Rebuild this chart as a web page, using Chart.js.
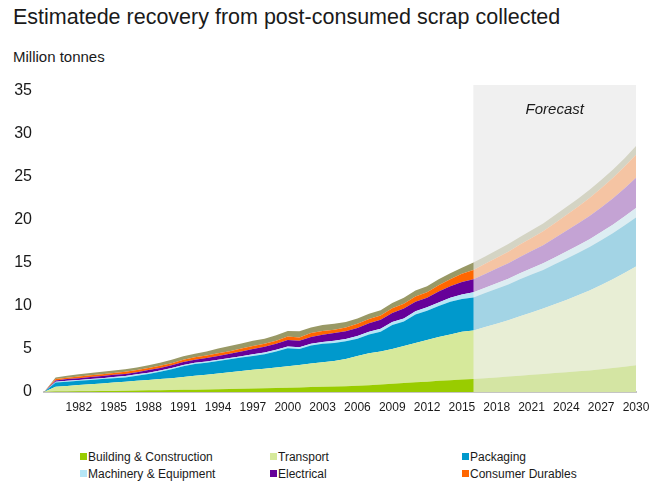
<!DOCTYPE html>
<html>
<head>
<meta charset="utf-8">
<script src="https://cdn.jsdelivr.net/npm/chart.js@4"></script>
<style>
  body { margin: 0; background: #fff; font-family: "Liberation Sans", Arial, sans-serif; color: #1a1a1a; }
  #wrap { position: relative; width: 650px; height: 482px; overflow: hidden; }
  h1 { position: absolute; left: 13px; top: 5px; margin: 0; font-size: 21.5px; font-weight: normal; }
  .unit { position: absolute; left: 13px; top: 48px; font-size: 15px; }
  #box { position: absolute; left: 0; top: 80px; width: 650px; height: 340px; }
  .item { position: absolute; font-size: 12px; line-height: 14px; white-space: nowrap; }
  .item i { display: inline-block; width: 7px; height: 7px; margin-right: 1px; vertical-align: 1px; }
</style>
</head>
<body>
<div id="wrap">
  <h1>Estimatede recovery from post-consumed scrap collected</h1>
  <div class="unit">Million tonnes</div>
  <div id="box"><canvas id="grafico"></canvas></div>
  <div id="legend"></div>
</div>
<script>
  // years 1979..2030, forecast starts at 2016
  const years = [];
  for (let y = 1979; y <= 2030; y++) years.push(String(y));
  const forecastStart = '2016';
  const yTicks = [0, 5, 10, 15, 20, 25, 30, 35];

  const building = [0,
    .05, .06, .08, .1, .12, .13, .15, .17, .19, .21,
    .23, .25, .27, .29, .31, .34, .37, .4, .43, .46,
    .5, .53, .57, .6, .64, .68, .72, .78, .88, .95,
    1.05, 1.13, 1.2, 1.3, 1.37, 1.44, 1.5,
    1.6, 1.7, 1.8, 1.9, 2.0, 2.1, 2.2, 2.3, 2.4, 2.5, 2.65, 2.8, 2.95, 3.1];
  const transport = [0,
    .55, .64, .72, .8, .88, .97, 1.05, 1.13, 1.21, 1.29,
    1.37, 1.5, 1.63, 1.71, 1.84, 1.96, 2.08, 2.2, 2.27, 2.39,
    2.5, 2.62, 2.73, 2.85, 2.96, 3.17, 3.48, 3.72, 3.82, 4.05,
    4.3, 4.57, 4.85, 5.1, 5.33, 5.56, 5.65,
    5.95, 6.25, 6.55, 6.9, 7.25, 7.6, 8.0, 8.4, 8.85, 9.3, 9.8, 10.3, 10.9, 11.5];
  const packaging = [0,
    .5, .5, .5, .5, .5, .5, .5, .6, .7, .85,
    1.05, 1.25, 1.35, 1.4, 1.45, 1.5, 1.55, 1.6, 1.7, 1.85,
    2.1, 1.85, 2.1, 2.15, 2.1, 2.05, 2.0, 2.2, 2.3, 2.8,
    2.85, 3.3, 3.4, 3.6, 3.8, 3.8, 3.85,
    3.95, 4.05, 4.15, 4.3, 4.4, 4.5, 4.65, 4.8, 4.9, 5.05, 5.2, 5.35, 5.5, 5.7];
  const machinery = [0,
    .1, .1, .1, .1, .1, .15, .15, .15, .15, .15,
    .15, .15, .15, .15, .15, .15, .15, .2, .2, .2,
    .2, .2, .2, .2, .25, .25, .3, .3, .35, .35,
    .35, .4, .4, .4, .45, .55, .6,
    .62, .65, .68, .71, .74, .77, .8, .84, .88, .92, .96, 1.0, 1.05, 1.1];
  const electrical = [0,
    .15, .2, .2, .25, .25, .25, .25, .25, .3, .3,
    .3, .35, .35, .4, .45, .5, .55, .6, .65, .7,
    .75, .75, .8, .85, .9, .9, .95, 1.0, 1.05, 1.05,
    1.15, 1.1, 1.1, 1.3, 1.35, 1.45, 1.5,
    1.6, 1.7, 1.8, 1.9, 2.0, 2.1, 2.25, 2.4, 2.55, 2.7, 2.85, 3.05, 3.25, 3.5];
  const durables = [0,
    .15, .15, .2, .2, .2, .2, .25, .25, .25, .25,
    .25, .25, .3, .3, .3, .3, .35, .35, .35, .35,
    .4, .4, .45, .45, .4, .45, .5, .5, .5, .55,
    .55, .6, .65, .7, .8, .95, 1.1,
    1.18, 1.26, 1.34, 1.43, 1.52, 1.62, 1.73, 1.84, 1.96, 2.09, 2.22, 2.37, 2.53, 2.7];
  const other = [0,
    .2, .25, .25, .25, .3, .3, .3, .3, .3, .35,
    .4, .4, .4, .45, .55, .6, .6, .6, .6, .65,
    .65, .7, .65, .7, .7, .65, .6, .6, .6, .6,
    .7, .7, .7, .7, .7, .7, .85,
    .86, .87, .88, .89, .9, .91, .92, .93, .94, .95, .96, .97, .98, 1.0];

  const series = [
    { label: 'Building & Construction', data: building, color: '#99cc00', legend: true },
    { label: 'Transport', data: transport, color: '#d6e99b', legend: true },
    { label: 'Packaging', data: packaging, color: '#0099cc', legend: true },
    { label: 'Machinery & Equipment', data: machinery, color: '#b5e6f6', legend: true },
    { label: 'Electrical', data: electrical, color: '#660099', legend: true },
    { label: 'Consumer Durables', data: durables, color: '#ff6600', legend: true },
    { label: 'Other', data: other, color: '#999966', legend: false }
  ];

  // grey forecast panel: solid behind the areas, translucent on top of them
  const forecastBox = {
    id: 'forecastBox',
    beforeDatasetsDraw(chart) {
      const { ctx, chartArea, scales } = chart;
      const x0 = scales.x.getPixelForValue(years.indexOf(forecastStart));
      ctx.save();
      ctx.fillStyle = '#f0f0f0';
      ctx.fillRect(x0, chartArea.top - 6, chartArea.right - x0, chartArea.bottom - chartArea.top + 6);
      ctx.restore();
    },
    afterDatasetsDraw(chart) {
      const { ctx, chartArea, scales } = chart;
      const x0 = scales.x.getPixelForValue(years.indexOf(forecastStart));
      ctx.save();
      ctx.fillStyle = 'rgba(240,240,240,0.68)';
      ctx.fillRect(x0, chartArea.top - 6, chartArea.right - x0, chartArea.bottom - chartArea.top + 6);
      ctx.fillStyle = '#1a1a1a';
      ctx.font = 'italic 15px "Liberation Sans", Arial, sans-serif';
      ctx.textAlign = 'center';
      ctx.textBaseline = 'middle';
      ctx.fillText('Forecast', (x0 + chartArea.right) / 2, chartArea.top + 19);
      ctx.restore();
    }
  };

  const graph = document.getElementById('grafico');
  const myChart = new Chart(graph, {
    type: 'line',
    data: {
      labels: years,
      datasets: series.map((s, i) => ({
        label: s.label,
        data: s.data,
        backgroundColor: s.color,
        borderWidth: 0,
        pointRadius: 0,
        fill: i === 0 ? 'origin' : '-1'
      }))
    },
    options: {
      responsive: true,
      maintainAspectRatio: false,
      animation: false,
      layout: { padding: { left: 0, right: 14, top: 11, bottom: 0 } },
      plugins: { legend: { display: false }, tooltip: { enabled: false } },
      scales: {
        x: {
          grid: { display: false, drawTicks: false },
          border: { display: true, color: '#c4c4c4', width: 2 },
          afterFit: (s) => { s.height = 28; s.paddingLeft = 0; s.paddingRight = 0; },
          ticks: {
            autoSkip: false,
            maxRotation: 0,
            padding: 8,
            color: '#1a1a1a',
            font: { family: '"Liberation Sans", Arial, sans-serif', size: 12 },
            callback: (v, i) => {
              const yr = Number(years[i]);
              return yr >= 1982 && (yr - 1982) % 3 === 0 ? years[i] : '';
            }
          }
        },
        y: {
          stacked: true,
          min: 0,
          max: 35,
          grid: { display: false, drawTicks: false },
          border: { display: false },
          afterFit: (s) => { s.width = 44; s.paddingTop = 0; s.paddingBottom = 0; },
          afterBuildTicks: (s) => { s.ticks = yTicks.map(v => ({ value: v })); },
          ticks: {
            padding: 12,
            color: '#1a1a1a',
            font: { family: '"Liberation Sans", Arial, sans-serif', size: 16 }
          }
        }
      }
    },
    plugins: [forecastBox]
  });

  // legend in three columns, two rows
  const legendCols = [80, 270, 462];
  const legendRows = [450, 467];
  const legend = document.getElementById('legend');
  series.filter(s => s.legend).forEach((s, i) => {
    const el = document.createElement('div');
    el.className = 'item';
    el.style.left = legendCols[i % 3] + 'px';
    el.style.top = legendRows[Math.floor(i / 3)] + 'px';
    el.innerHTML = `<i style="background:${s.color}"></i>${s.label}`;
    legend.appendChild(el);
  });
</script>
</body>
</html>
